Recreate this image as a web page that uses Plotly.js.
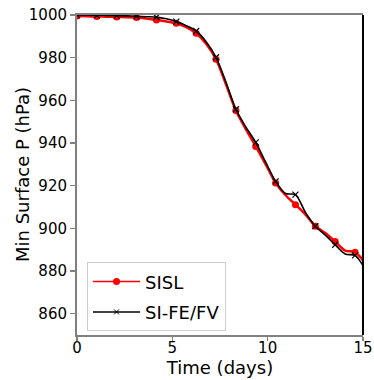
<!DOCTYPE html>
<html>
<head>
<meta charset="utf-8">
<script src="https://cdn.plot.ly/plotly-3.0.1.min.js"></script>
<style>html,body{margin:0;padding:0;background:#fff;}#chart{width:374px;height:380px;}</style>
</head>
<body>
<div id="chart"></div>
<script>
// Time axis (days) for line samples
var timeDays = [0, 0.521, 1.042, 1.563, 2.083, 2.604, 3.125, 3.646, 4.167, 4.688, 5.208, 5.729, 6.25, 6.771, 7.292, 7.813, 8.333, 8.854, 9.375, 9.896, 10.417, 10.938, 11.458, 11.979, 12.5, 13.021, 13.542, 14.063, 14.583, 15.0];
// Minimum surface pressure (hPa)
var sislP = [999.5, 999.4, 999.3, 999.2, 999.1, 999.0, 998.8, 998.3, 997.7, 997.0, 996.1, 994.3, 991.4, 986.5, 979.3, 967.5, 955.2, 946.5, 938.4, 930.0, 921.3, 915.5, 911.1, 906.5, 901.0, 897.8, 893.8, 889.6, 888.8, 885.0];
var sifefvP = [1000.0, 1000.0, 999.9, 999.8, 999.7, 999.6, 999.4, 999.2, 999.0, 998.2, 996.9, 995.0, 992.5, 987.5, 980.2, 968.5, 955.8, 947.5, 940.3, 931.0, 922.0, 916.3, 915.8, 907.5, 901.0, 896.8, 892.3, 888.0, 887.3, 882.5];
var seriesNames = ["SISL", "SI-FE/FV"];
var xTicks = [0, 5, 10, 15];
var yTicks = [860, 880, 900, 920, 940, 960, 980, 1000];
var xTitle = "Time (days)";
var yTitle = "Min Surface P (hPa)";

function everyOther(arr) { return arr.filter(function (v, i) { return i % 2 === 0; }); }
var markT = everyOther(timeDays);
var markSISL = everyOther(sislP);
var markSIFE = everyOther(sifefvP);

var red = "#ff0000", blk = "#000000";
var traces = [
  {x: timeDays, y: sislP, mode: "lines", line: {color: red, width: 2.5, shape: "spline", smoothing: 0.8}, showlegend: false, hoverinfo: "skip"},
  {x: markT, y: markSISL, mode: "markers", marker: {color: red, size: 7, symbol: "circle"}, showlegend: false},
  {x: timeDays, y: sifefvP, mode: "lines", line: {color: blk, width: 1.6, shape: "spline", smoothing: 0.8}, showlegend: false, hoverinfo: "skip"},
  {x: markT, y: markSIFE, mode: "markers", marker: {color: blk, size: 6, symbol: "x-thin", line: {color: blk, width: 1.2}}, showlegend: false},
  // legend entries
  {x: [null], y: [null], mode: "lines+markers", name: seriesNames[0], legendgroup: "a", line: {color: red, width: 1.5}, marker: {color: red, size: 7, symbol: "circle"}},
  {x: [null], y: [null], mode: "lines+markers", name: seriesNames[1], legendgroup: "b", line: {color: blk, width: 1.5}, marker: {color: blk, size: 5, symbol: "x-thin", line: {color: blk, width: 1}}}
];

var font = {family: "DejaVu Sans, sans-serif", color: "#000"};
var layout = {
  width: 374, height: 380,
  margin: {l: 77, r: 11, t: 15, b: 45},
  paper_bgcolor: "#fff", plot_bgcolor: "#fff",
  font: font,
  showlegend: true,
  xaxis: {
    range: [0, 15], tickvals: xTicks, ticktext: xTicks.map(String),
    showgrid: false, zeroline: false,
    showline: true, linecolor: "#808080", linewidth: 2, mirror: true,
    ticks: "outside", ticklen: 4, tickwidth: 1.5, tickcolor: "#808080",
    ticklabelstandoff: -6,
    tickfont: {size: 15, family: font.family, color: "#000"},
    title: {text: xTitle, font: {size: 18, family: font.family, color: "#000"}, standoff: 0}
  },
  yaxis: {
    range: [850, 1000], tickvals: yTicks, ticktext: yTicks.map(String),
    showgrid: false, zeroline: false,
    showline: true, linecolor: "#808080", linewidth: 2,
    ticks: "outside", ticklen: 5, tickwidth: 1.5, tickcolor: "#808080",
    tickfont: {size: 15, family: font.family, color: "#000"}
  },
  annotations: [
    {text: yTitle, xref: "paper", yref: "paper", x: 0, y: 0.5, xshift: -55, xanchor: "center", yanchor: "middle",
     textangle: -90, showarrow: false, font: {size: 18, family: font.family, color: "#000"}}
  ],
  shapes: [
    {type: "line", xref: "paper", yref: "paper", x0: 1, x1: 1, y0: 0, y1: 1, line: {color: "#000", width: 2}}
  ],
  legend: {
    x: 0.035, y: 0.227, xanchor: "left", yanchor: "top",
    bgcolor: "rgba(255,255,255,0.8)", bordercolor: "#cccccc", borderwidth: 1,
    font: {size: 18, family: font.family, color: "#000"},
    itemwidth: 47,
    traceorder: "grouped", tracegroupgap: 4
  }
};

Plotly.newPlot("chart", traces, layout, {staticPlot: true, displayModeBar: false});
</script>
</body>
</html>
